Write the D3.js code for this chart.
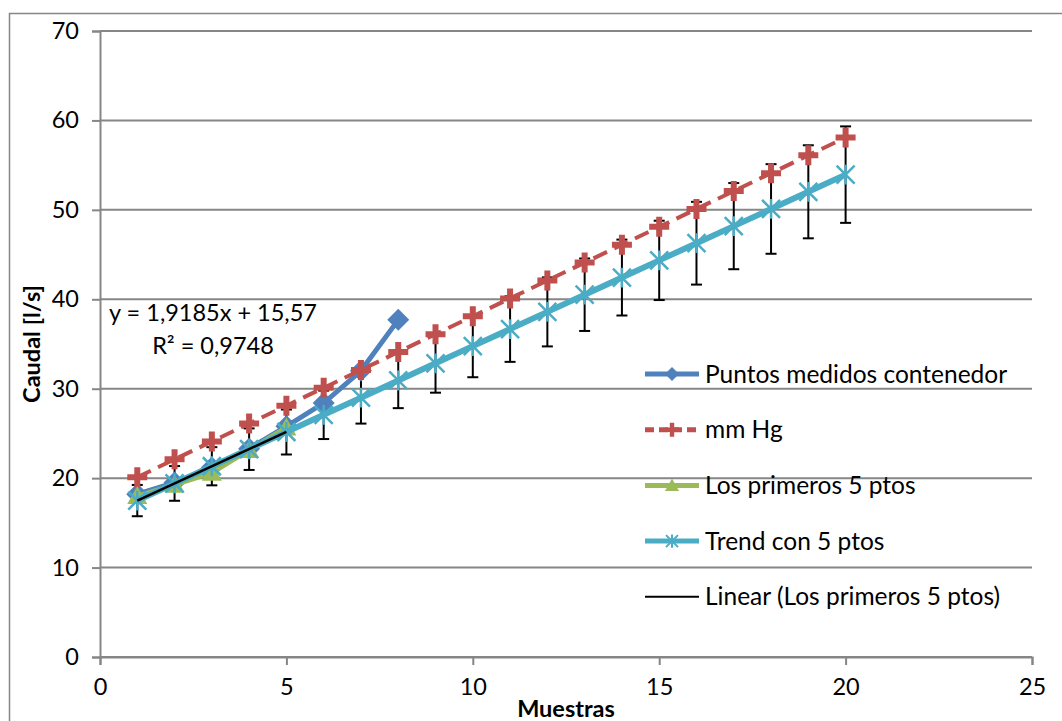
<!DOCTYPE html>
<html>
<head>
<meta charset="utf-8">
<script src="https://cdn.jsdelivr.net/npm/d3@7"></script>
<style>
  html, body { margin: 0; padding: 0; background: #fff; }
  svg { display: block; }
  text { font-family: Lato, "Liberation Sans", sans-serif; fill: #000; }
</style>
</head>
<body>
<div id="chart"></div>
<script>
// values
const muestras = [1, 2, 3, 4, 5, 6, 7, 8, 9, 10, 11, 12, 13, 14, 15, 16, 17, 18, 19, 20]
const puntosMedidos = [18.2, 19.5, 21.2, 23.3, 25.8, 28.4, 32.0, 37.7]
const mmHg = [20.1, 22.1, 24.1, 26.1, 28.1, 30.1, 32.1, 34.1, 36.1, 38.1, 40.1, 42.1, 44.1, 46.1, 48.1, 50.1, 52.1, 54.1, 56.1, 58.1]
const primeros5 = [18.0, 19.25, 20.6, 23.15, 25.65]
const trend5 = [17.49, 19.41, 21.33, 23.24, 25.16, 27.08, 29.0, 30.92, 32.84, 34.76, 36.67, 38.59, 40.51, 42.43, 44.35, 46.27, 48.18, 50.1, 52.02, 53.94]
const errorPct = 0.10          // percentage error bars on the trend series
const trendSlope = 1.9185
const trendIntercept = 15.57
const xTicks = [0, 5, 10, 15, 20, 25]
const yTicks = [0, 10, 20, 30, 40, 50, 60, 70]

const width = 1062
const height = 721
const gridColor = "#868686"
const colors = { blue: "#4F81BD", red: "#C0504D", green: "#9BBB59", teal: "#4BACC6" }

const x = d3.scaleLinear().domain([0, 25]).range([100, 1032])
const y = d3.scaleLinear().domain([0, 70]).range([657, 31])

const svg = d3.select("#chart").append("svg")
    .attr("width", width)
    .attr("height", height)

// chart border (runs off the right / bottom edge)
svg.append("rect")
    .attr("x", 9.5).attr("y", 13.5)
    .attr("width", width + 20).attr("height", height + 20)
    .attr("fill", "none").attr("stroke", gridColor).attr("stroke-width", 1.5)

// horizontal gridlines
svg.append("g")
    .selectAll("line")
    .data(yTicks)
    .join("line")
    .attr("x1", x(0)).attr("x2", x(25))
    .attr("y1", d => y(d)).attr("y2", d => y(d))
    .attr("stroke", gridColor).attr("stroke-width", 2)

// axes
const yAxis = svg.append("g")
    .attr("transform", `translate(${x(0)},0)`)
    .call(d3.axisLeft(y).tickValues(yTicks).tickSize(8).tickPadding(13))
const xAxis = svg.append("g")
    .attr("transform", `translate(0,${y(0)})`)
    .call(d3.axisBottom(x).tickValues(xTicks).tickSize(8).tickPadding(13))
for (const ax of [yAxis, xAxis]) {
    ax.select(".domain").attr("stroke", gridColor).attr("stroke-width", 2)
    ax.selectAll(".tick line").attr("stroke", gridColor).attr("stroke-width", 2)
    ax.selectAll(".tick text")
        .attr("font-family", "Lato, 'Liberation Sans', sans-serif")
        .attr("font-size", 23.5).attr("fill", "#000")
}

// axis titles
svg.append("text")
    .attr("x", x(12.5)).attr("y", 717)
    .attr("text-anchor", "middle")
    .attr("font-size", 23.5).attr("font-weight", "bold")
    .text("Muestras")
svg.append("text")
    .attr("transform", `translate(40,${y(35)}) rotate(-90)`)
    .attr("text-anchor", "middle")
    .attr("font-size", 23.5).attr("font-weight", "bold")
    .text("Caudal [l/s]")

// marker shapes
const diamond = s => `M0,${-s}L${s},0L0,${s}L${-s},0Z`
const plus = (s, t) => `M${-t},${-s}H${t}V${-t}H${s}V${t}H${t}V${s}H${-t}V${t}H${-s}V${-t}H${-t}Z`
const triangle = s => `M0,${-s}L${s},${s * 0.8}L${-s},${s * 0.8}Z`
const star = s => `M${-s},${-s}L${s},${s}M${-s},${s}L${s},${-s}M0,${-s * 1.1}V${s * 1.1}`

const line = d3.line().x(d => x(d[0])).y(d => y(d[1]))
const pairs = vals => vals.map((v, i) => [muestras[i], v])

// error bars of the trend series
const eb = svg.append("g").attr("stroke", "#000").attr("stroke-width", 2)
trend5.forEach((v, i) => {
    const cx = x(muestras[i])
    const lo = y(v * (1 - errorPct)), hi = y(v * (1 + errorPct))
    eb.append("line").attr("x1", cx).attr("x2", cx).attr("y1", lo).attr("y2", hi)
    eb.append("line").attr("x1", cx - 5.5).attr("x2", cx + 5.5).attr("y1", lo).attr("y2", lo)
    eb.append("line").attr("x1", cx - 5.5).attr("x2", cx + 5.5).attr("y1", hi).attr("y2", hi)
})

// Puntos medidos contenedor
svg.append("path")
    .attr("d", line(pairs(puntosMedidos)))
    .attr("fill", "none").attr("stroke", colors.blue).attr("stroke-width", 5)
svg.append("g").selectAll("path")
    .data(pairs(puntosMedidos))
    .join("path")
    .attr("transform", d => `translate(${x(d[0])},${y(d[1])})`)
    .attr("d", diamond(11)).attr("fill", colors.blue)

// mm Hg
svg.append("path")
    .attr("d", line(pairs(mmHg)))
    .attr("fill", "none").attr("stroke", colors.red).attr("stroke-width", 4)
    .attr("stroke-dasharray", "15,8")
svg.append("g").selectAll("path")
    .data(pairs(mmHg))
    .join("path")
    .attr("transform", d => `translate(${x(d[0])},${y(d[1])})`)
    .attr("d", plus(10, 3)).attr("fill", colors.red)

// Los primeros 5 ptos
svg.append("path")
    .attr("d", line(pairs(primeros5)))
    .attr("fill", "none").attr("stroke", colors.green).attr("stroke-width", 5)
svg.append("g").selectAll("path")
    .data(pairs(primeros5))
    .join("path")
    .attr("transform", d => `translate(${x(d[0])},${y(d[1])})`)
    .attr("d", triangle(10)).attr("fill", colors.green)

// Trend con 5 ptos
svg.append("path")
    .attr("d", line(pairs(trend5)))
    .attr("fill", "none").attr("stroke", colors.teal).attr("stroke-width", 6)
svg.append("g").selectAll("path")
    .data(pairs(trend5))
    .join("path")
    .attr("transform", d => `translate(${x(d[0])},${y(d[1])})`)
    .attr("d", star(9)).attr("fill", "none")
    .attr("stroke", colors.teal).attr("stroke-width", 2.5)

// linear trendline of the first 5 points
const tx = [muestras[0], muestras[4]]
svg.append("path")
    .attr("d", line(tx.map(v => [v, trendSlope * v + trendIntercept])))
    .attr("stroke", "#000").attr("stroke-width", 2.5)

// trendline label
const eq = svg.append("text").attr("text-anchor", "middle").attr("font-size", 23.5)
eq.append("tspan").attr("x", 213).attr("y", 321).text("y = 1,9185x + 15,57")
eq.append("tspan").attr("x", 213).attr("y", 354).text("R² = 0,9748")

// legend
const legendItems = [
    { name: "Puntos medidos contenedor", color: colors.blue, mark: "diamond" },
    { name: "mm Hg", color: colors.red, mark: "plus", dash: "9,5" },
    { name: "Los primeros 5 ptos", color: colors.green, mark: "triangle" },
    { name: "Trend con 5 ptos", color: colors.teal, mark: "star" },
    { name: "Linear (Los primeros 5 ptos)", color: "#000", mark: null }
]
const legend = svg.append("g")
    .selectAll("g")
    .data(legendItems)
    .join("g")
    .attr("transform", (d, i) => `translate(645,${374 + i * 55.7})`)
legend.append("line")
    .attr("x1", 0).attr("x2", 54)
    .attr("stroke", d => d.color)
    .attr("stroke-width", d => d.mark ? 5 : 2)
    .attr("stroke-dasharray", d => d.dash || null)
legend.filter(d => d.mark).append("path")
    .attr("transform", "translate(27,0)")
    .attr("d", d => d.mark === "diamond" ? diamond(7) : d.mark === "plus" ? plus(7, 2.2) : d.mark === "triangle" ? triangle(7) : star(6))
    .attr("fill", d => d.mark === "star" ? "none" : d.color)
    .attr("stroke", d => d.mark === "star" ? d.color : null)
    .attr("stroke-width", 2)
legend.append("text")
    .attr("x", 60).attr("y", 8.5)
    .attr("font-size", 24.5)
    .text(d => d.name)
</script>
</body>
</html>
